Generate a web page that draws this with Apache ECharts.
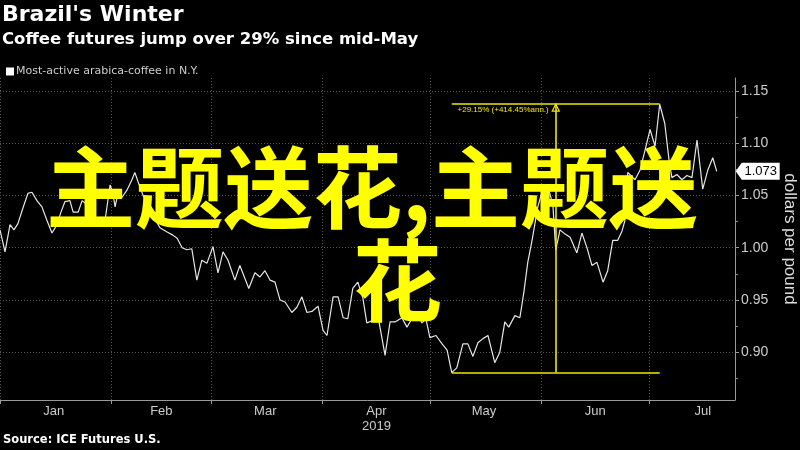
<!DOCTYPE html>
<html><head><meta charset="utf-8">
<script src="https://cdn.jsdelivr.net/npm/echarts@6/dist/echarts.min.js"></script>
<style>html,body{margin:0;padding:0;background:#000}#c{width:800px;height:450px}</style>
</head><body><div id="c"></div>
<script>
// Trading-day positions (days since Jan 1, 2019) and prices (dollars per pound)
const days = [0.0,1.4,2.8,3.9,5.0,6.4,7.8,8.9,10.3,11.7,13.1,14.5,15.9,17.0,18.1,19.5,20.4,21.8,22.9,24.3,25.7,27.0,29.3,30.7,31.5,32.1,32.9,34.0,35.4,36.8,37.6,38.5,39.9,41.3,42.7,43.8,44.6,46.6,48.2,49.4,50.8,52.1,53.5,54.9,56.3,57.7,59.4,60.8,62.2,63.6,65.5,66.9,69.4,71.1,72.5,73.9,75.3,76.7,78.1,79.5,81.4,82.8,84.2,85.6,87.0,88.7,90.1,91.2,92.9,94.3,95.7,97.0,98.4,99.8,101.2,102.3,103.7,105.4,107.4,108.8,110.2,112.1,113.5,114.9,116.3,117.7,118.8,119.9,121.6,123.3,124.7,126.0,127.4,129.1,130.5,131.9,133.3,134.7,136.1,138.0,139.4,140.8,141.9,143.6,145.0,146.1,147.2,148.4,149.2,150.0,150.9,152.0,153.1,154.2,155.0,156.2,157.6,159.0,160.9,162.3,163.7,165.1,166.5,168.2,169.5,170.9,172.3,173.5,174.3,175.1,177.1,178.5,179.9,181.3,182.7,184.0,185.4,186.6,187.4,188.8,190.2,191.6,193.0,194.4,196.0,197.4,198.8,199.9];
const prices = [1.017,0.996,1.022,1.017,1.023,1.038,1.052,1.053,1.045,1.039,1.026,1.014,1.022,1.034,1.044,1.045,1.034,1.034,1.045,1.041,1.031,1.026,1.026,1.060,1.052,1.039,1.052,1.048,1.055,1.065,1.072,1.063,1.050,1.041,1.031,1.024,1.019,1.015,1.012,1.009,1.000,0.998,0.999,0.969,0.988,0.985,1.001,0.976,0.996,0.988,0.969,0.983,0.961,0.976,0.972,0.978,0.969,0.967,0.950,0.948,0.938,0.943,0.953,0.938,0.939,0.944,0.921,0.916,0.953,0.953,0.933,0.932,0.961,0.967,0.952,0.928,0.930,0.935,0.897,0.929,0.929,0.933,0.924,0.932,0.937,0.928,0.932,0.914,0.916,0.908,0.902,0.8805,0.885,0.908,0.908,0.896,0.909,0.913,0.916,0.890,0.900,0.929,0.924,0.935,0.933,0.957,0.986,1.007,1.023,1.039,1.050,1.060,1.055,1.041,0.998,1.017,1.013,1.010,0.995,1.014,1.000,0.983,0.986,0.967,0.978,1.007,1.007,1.016,1.026,1.072,1.065,1.074,1.093,1.113,1.097,1.1372,1.119,1.084,1.067,1.070,1.065,1.069,1.067,1.103,1.056,1.074,1.086,1.073];

const seriesName = 'Most-active arabica-coffee in N.Y.';
const monthStartDays = [0, 31, 59, 90, 120, 151, 181];
const monthLabelDays = [15, 45, 74, 105, 135, 166, 196];
const monthLabels = ['Jan', 'Feb', 'Mar', 'Apr\n2019', 'May', 'Jun', 'Jul'];
const priceTicks = [0.90, 0.95, 1.00, 1.05, 1.10, 1.15];
const minorPriceTicks = [0.875, 0.925, 0.975, 1.025, 1.075, 1.125];
const lastPrice = 1.073;
const annStartDay = 126.0, annEndDay = 184.0, annMidDay = 155.0;
const annLow = 0.8805, annHigh = 1.1372;
const annLabel = '+29.15% (+414.45%ann.)';

const YEL = '#f2e600';
const narrow = "'Liberation Sans Narrow', 'Liberation Sans', Arial, sans-serif";
const hollowArrow = 'path://M0,10 L5,0 L10,10 Z M2.2,8.6 L7.8,8.6 L5,3.2 Z';
const chart = echarts.init(document.getElementById('c'), null, {renderer: 'canvas'});
const data = days.map((d, i) => [d, prices[i]]);

chart.setOption({
  backgroundColor: '#000',
  animation: false,
  title: [
    {text: "Brazil's Winter", left: 0, top: 4, padding: [0,0,0,2], textStyle: {color: '#fff', fontSize: 22, fontWeight: 'bold', fontFamily: 'DejaVu Sans'}},
    {text: 'Coffee futures jump over 29% since mid-May', left: 0, top: 31, padding: [0,0,0,2], textStyle: {color: '#fff', fontSize: 16.5, fontWeight: 'bold', fontFamily: 'DejaVu Sans'}},
    {text: 'Source: ICE Futures U.S.', left: 0, top: 434, padding: [0,0,0,3], textStyle: {color: '#fff', fontSize: 11.5, fontWeight: 'bold', fontFamily: 'DejaVu Sans'}}
  ],
  legend: {
    left: 1, top: 61, icon: 'rect', itemWidth: 8, itemHeight: 8, itemGap: 4,
    textStyle: {color: '#ccc', fontSize: 11, fontFamily: 'DejaVu Sans', padding: [0,0,0,-3]},
    data: [seriesName]
  },
  grid: {left: 0, right: 65, top: 78, bottom: 50, containLabel: false, outerBoundsMode: 'none'},
  xAxis: {
    type: 'value', min: 0, max: 205,
    axisLine: {show: true, onZero: false, lineStyle: {color: '#999', width: 1}},
    axisTick: {show: true, length: 4, lineStyle: {color: '#999'}, customValues: monthStartDays},
    axisLabel: {
      customValues: monthLabelDays, color: '#ccc', fontSize: 13, fontFamily: narrow, margin: 4, lineHeight: 15,
      formatter: v => { const i = monthLabelDays.indexOf(v); return i >= 0 ? monthLabels[i] : ''; }
    },
    splitLine: {show: true, lineStyle: {color: '#555', type: [1, 2], width: 1}}
  },
  yAxis: [{
    type: 'value', position: 'right', min: 0.8543, max: 1.1623,
    name: 'dollars per pound', nameLocation: 'middle', nameRotate: -90, nameGap: 46,
    nameTextStyle: {color: '#ddd', fontSize: 17, fontFamily: 'Liberation Sans'},
    axisLine: {show: true, onZero: false, lineStyle: {color: '#999', width: 1}},
    axisTick: {show: true, length: 4, lineStyle: {color: '#999'}, customValues: priceTicks},
    axisLabel: {customValues: priceTicks, color: '#ccc', fontSize: 14, fontFamily: narrow, margin: 6, formatter: v => v.toFixed(2)},
    splitLine: {show: true, lineStyle: {color: '#555', type: [1, 2], width: 1}}
  }, {
    type: 'value', position: 'right', min: 0.8543, max: 1.1623, offset: 0,
    axisLine: {show: false, onZero: false},
    axisTick: {show: true, length: 3, lineStyle: {color: '#888'}, customValues: minorPriceTicks},
    axisLabel: {show: false}, splitLine: {show: false}
  }],
  series: [{
    name: seriesName, type: 'line', data: data, showSymbol: false, symbol: 'none',
    lineStyle: {color: '#e6e6e6', width: 1.2}, itemStyle: {color: '#fff'},
    z: 3, silent: true,
    markLine: {
      silent: true, animation: false, symbol: ['none', 'none'], symbolSize: 9,
      lineStyle: {color: YEL, type: 'solid', width: 1.6},
      label: {show: false},
      data: [
        [{coord: [annStartDay, annLow]}, {coord: [annEndDay, annLow]}],
        [{coord: [annStartDay, annHigh]}, {coord: [annEndDay, annHigh]}],
        [{coord: [annMidDay, annLow], symbol: 'none'}, {coord: [annMidDay, annHigh], symbol: hollowArrow, symbolSize: 9, symbolOffset: [0, 3]}]
      ]
    },
    markPoint: {
      silent: true, animation: false,
      data: [
        {coord: [days[days.length - 1], lastPrice], symbol: 'path://M0,8.5 L6,0 L44,0 L44,17 L6,17 Z', symbolSize: [44, 17], symbolKeepAspect: false,
         symbolOffset: [41, 0], itemStyle: {color: '#fff'},
         label: {show: true, position: 'inside', formatter: lastPrice.toFixed(3), color: '#000', fontSize: 13, fontFamily: narrow, offset: [3, 0]}},
        {coord: [annMidDay, annHigh], symbol: 'rect', symbolSize: 0,
         label: {show: true, position: 'left', formatter: annLabel, color: YEL, fontSize: 8, fontFamily: 'Liberation Sans', distance: 7, offset: [0, 6]}}
      ]
    }
  }],
  graphic: [
    {type: 'text', left: 46, top: 143, z: 100, silent: true,
     style: {text: '主题送花,主题送', fill: '#ffff00', font: 'bold 89px "Noto Sans CJK SC"'}},
    {type: 'text', left: 353, top: 236, z: 100, silent: true,
     style: {text: '花', fill: '#ffff00', font: 'bold 89px "Noto Sans CJK SC"'}}
  ]
});
</script></body></html>
